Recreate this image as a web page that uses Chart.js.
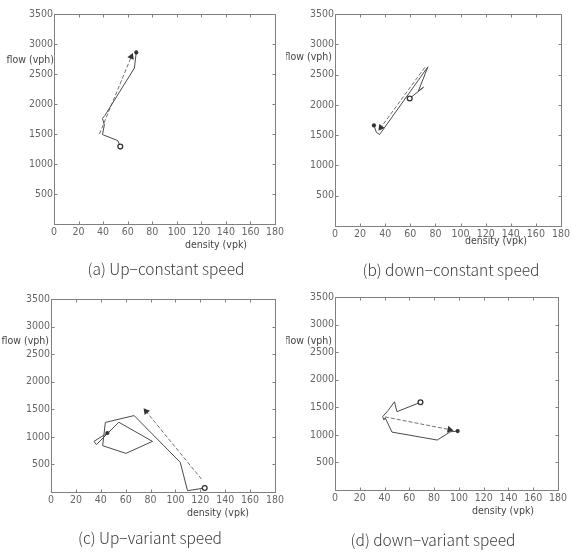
<!DOCTYPE html>
<html>
<head>
<meta charset="utf-8">
<script src="https://cdn.jsdelivr.net/npm/chart.js@4.4.1/dist/chart.umd.min.js"></script>
<style>
  body { margin: 0; background: #fff; }
  #wrap { position: relative; width: 572px; height: 553px; overflow: hidden; }
  canvas { position: absolute; }
</style>
</head>
<body>
<div id="wrap">
  <canvas id="chartA"></canvas>
  <canvas id="chartB"></canvas>
  <canvas id="chartC"></canvas>
  <canvas id="chartD"></canvas>
</div>
<script>
// axis ticks
const densityTicks = [0, 20, 40, 60, 80, 100, 120, 140, 160, 180];
const flowTicks = [500, 1000, 1500, 2000, 2500, 3000, 3500];
const flowLabel = "flow (vph)";
const densityLabel = "density (vpk)";

// (a) up - constant speed
const upConstDensity = [54, 52, 39.5, 41, 39.5, 41.5, 65.5, 67];
const upConstFlow = [1290, 1390, 1490, 1650, 1760, 1810, 2600, 2860];
const upConstArrowDensity = [37, 63];
const upConstArrowFlow = [1500, 2790];

// (b) down - constant speed
const downConstDensity = [59.5, 70.5, 66.5, 74, 35.5, 33, 31];
const downConstFlow = [2106, 2290, 2232, 2628, 1510, 1545, 1660];
const downConstArrowDensity = [71.5, 36.5];
const downConstArrowFlow = [2618, 1625];

// (c) up - variant speed
const upVarDensity = [123.5, 109.7, 103.9, 66.8, 43.7, 41.5, 60.2, 81.5, 54.5, 36.5, 34.5, 45.3];
const upVarFlow = [72, 24, 537, 1386, 1262, 840, 700, 918, 1265, 860, 918, 1070];
const upVarArrowDensity = [120.9, 76.4];
const upVarArrowFlow = [235, 1462];

// (d) down - variant speed
const downVarDensity = [69, 50, 48, 43, 38.5, 39.5, 40.5, 46, 82.5, 93.2, 99];
const downVarFlow = [1590, 1420, 1600, 1446, 1330, 1270, 1310, 1050, 906, 1056, 1068];
const downVarArrowDensity = [40.3, 92.5];
const downVarArrowFlow = [1326, 1095];

const tickFont = '"Liberation Sans Narrow", "Arial Narrow", "DejaVu Sans Condensed", sans-serif';
const captionFont = '"Noto Sans CJK KR", "Noto Sans", sans-serif';

const panels = [
    { id: "chartA", left: 0, top: 0, w: 286, h: 285, area: [54, 14, 276, 224],
      density: upConstDensity, flow: upConstFlow, arrowDensity: upConstArrowDensity, arrowFlow: upConstArrowFlow,
      caption: "(a) Up\u2212constant speed", capX: 166, capY: 269,
      flowX: 54, flowY: 60, densX: 216, densY: 245 },
    { id: "chartB", left: 286, top: 0, w: 286, h: 285, area: [49, 14, 275, 226],
      density: downConstDensity, flow: downConstFlow, arrowDensity: downConstArrowDensity, arrowFlow: downConstArrowFlow,
      caption: "(b) down\u2212constant speed", capX: 165, capY: 270,
      flowX: 46, flowY: 57, densX: 210, densY: 241 },
    { id: "chartC", left: 0, top: 285, w: 286, h: 268, area: [51, 14, 276, 207],
      density: upVarDensity, flow: upVarFlow, arrowDensity: upVarArrowDensity, arrowFlow: upVarArrowFlow,
      caption: "(c) Up\u2212variant speed", capX: 150, capY: 253,
      flowX: 49, flowY: 56, densX: 218, densY: 228 },
    { id: "chartD", left: 286, top: 285, w: 286, h: 268, area: [49, 12, 272, 205],
      density: downVarDensity, flow: downVarFlow, arrowDensity: downVarArrowDensity, arrowFlow: downVarArrowFlow,
      caption: "(d) down\u2212variant speed", capX: 147, capY: 255,
      flowX: 46, flowY: 56, densX: 217, densY: 226 }
];

// box, inward ticks and texts
const framePlugin = {
    id: "frame",
    afterDraw(chart, args, opts) {
        const { ctx, chartArea: a, scales } = chart;
        const x = scales.x, y = scales.y;
        const l = Math.round(a.left) + 0.5, t = Math.round(a.top) + 0.5;
        const r = Math.round(a.right) + 0.5, b = Math.round(a.bottom) + 0.5;
        ctx.save();
        ctx.strokeStyle = "#808080";
        ctx.lineWidth = 1;
        ctx.strokeRect(l, t, r - l, b - t);
        ctx.beginPath();
        x.ticks.forEach((tk) => {
            if (tk.value <= x.min || tk.value >= x.max) return;
            const px = Math.round(x.getPixelForValue(tk.value)) + 0.5;
            ctx.moveTo(px, b); ctx.lineTo(px, b - 3);
            ctx.moveTo(px, t); ctx.lineTo(px, t + 3);
        });
        y.ticks.forEach((tk) => {
            if (tk.value <= y.min || tk.value >= y.max) return;
            const py = Math.round(y.getPixelForValue(tk.value)) + 0.5;
            ctx.moveTo(l, py); ctx.lineTo(l + 3, py);
            ctx.moveTo(r, py); ctx.lineTo(r - 3, py);
        });
        ctx.stroke();

        ctx.fillStyle = "#444";
        ctx.textBaseline = "middle";
        ctx.font = "10.5px " + tickFont;
        ctx.textAlign = "right";
        ctx.fillText(flowLabel, opts.flowX, opts.flowY);
        ctx.textAlign = "center";
        ctx.fillText(densityLabel, opts.densX, opts.densY);

        ctx.fillStyle = "#3a3a3a";
        ctx.font = "300 15.5px " + captionFont;
        ctx.fillText(opts.caption, opts.capX, opts.capY);
        ctx.restore();
    }
};

function toPoints(xs, ys) {
    return xs.map((v, i) => ({ x: v, y: ys[i] }));
}

function arrowRotation(c) {
    const data = c.dataset.data;
    const i = c.dataIndex;
    if (i === 0) return 0;
    const xs = c.chart.scales.x, ys = c.chart.scales.y;
    const dx = xs.getPixelForValue(data[i].x) - xs.getPixelForValue(data[i - 1].x);
    const dy = ys.getPixelForValue(data[i].y) - ys.getPixelForValue(data[i - 1].y);
    return Math.atan2(dx, -dy) * 180 / Math.PI;
}

panels.forEach((p) => {

    const canvas = document.getElementById(p.id);
    canvas.width = p.w;
    canvas.height = p.h;
    canvas.style.left = p.left + "px";
    canvas.style.top = p.top + "px";
    canvas.style.width = p.w + "px";
    canvas.style.height = p.h + "px";

    const path = toPoints(p.density, p.flow);
    const arrow = toPoints(p.arrowDensity, p.arrowFlow);
    const n = path.length - 1;

    new Chart(canvas, {

        type: "scatter",

        data: {
            datasets: [
                {
                    data: [path[0]],
                    pointStyle: "circle",
                    pointRadius: 2.4,
                    pointBorderWidth: 1.3,
                    pointBorderColor: "#333",
                    pointBackgroundColor: "#fff"
                },
                {
                    data: [path[n]],
                    pointStyle: "circle",
                    pointRadius: 2.1,
                    pointBorderWidth: 0,
                    pointBackgroundColor: "#333"
                },
                {
                    data: path,
                    showLine: true,
                    borderColor: "#4a4a4a",
                    borderWidth: 1,
                    pointRadius: 0,
                    tension: 0
                },
                {
                    data: arrow,
                    showLine: true,
                    borderColor: "#707070",
                    borderWidth: 1,
                    borderDash: [4, 2],
                    pointStyle: "triangle",
                    pointRadius: [0, 4],
                    pointBorderWidth: 0,
                    pointBackgroundColor: "#333",
                    pointRotation: arrowRotation
                }
            ]
        },

        options: {
            responsive: false,
            animation: false,
            events: [],
            layout: {
                padding: { left: 0, top: p.area[1], right: p.w - p.area[2], bottom: 0 }
            },
            plugins: {
                legend: { display: false },
                tooltip: { enabled: false },
                frame: p
            },
            scales: {
                x: {
                    type: "linear",
                    min: 0,
                    max: 180,
                    afterBuildTicks: (s) => { s.ticks = densityTicks.map((v) => ({ value: v })); },
                    afterFit: (s) => { s.height = p.h - p.area[3]; },
                    grid: { display: false, drawTicks: false },
                    border: { display: false },
                    ticks: {
                        color: "#666",
                        font: { family: tickFont, size: 10.5 },
                        padding: 2,
                        maxRotation: 0,
                        autoSkip: false,
                        callback: (v) => String(v)
                    }
                },
                y: {
                    type: "linear",
                    min: 0,
                    max: 3500,
                    afterBuildTicks: (s) => { s.ticks = flowTicks.map((v) => ({ value: v })); },
                    afterFit: (s) => { s.width = p.area[0]; },
                    grid: { display: false, drawTicks: false },
                    border: { display: false },
                    ticks: {
                        color: "#666",
                        font: { family: tickFont, size: 10.5 },
                        padding: 1,
                        autoSkip: false,
                        callback: (v) => String(v)
                    }
                }
            }
        },

        plugins: [framePlugin]

    });

});
</script>
</body>
</html>
